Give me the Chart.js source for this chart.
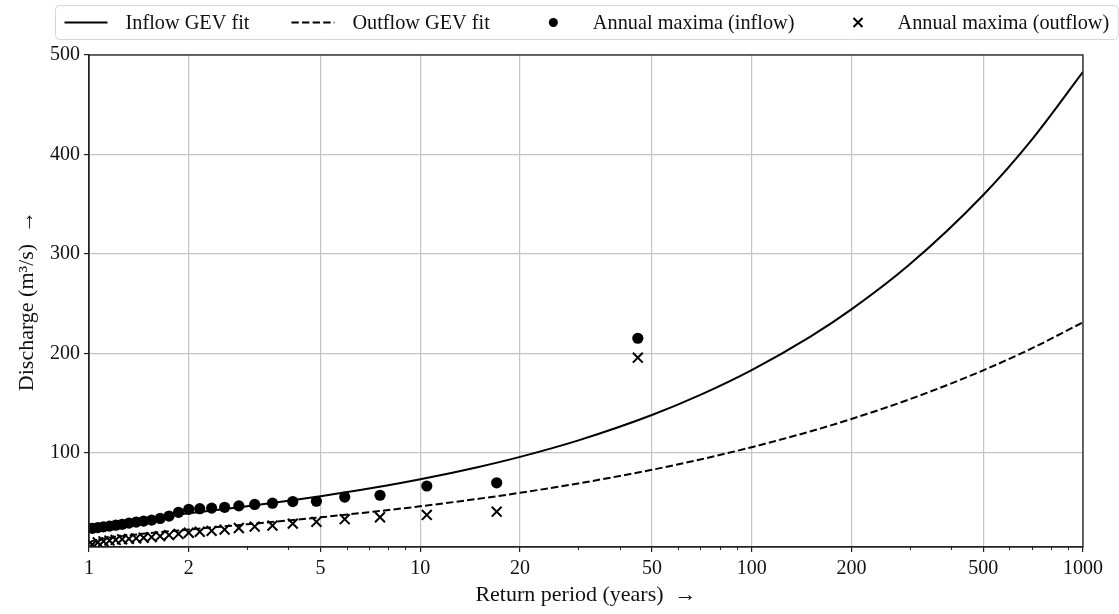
<!DOCTYPE html>
<html>
<head>
<meta charset="utf-8">
<script src="https://cdn.jsdelivr.net/npm/chart.js@4.4.1/dist/chart.umd.min.js"></script>
<style>
  html, body { margin: 0; padding: 0; background: #fff; }
</style>
</head>
<body>
<canvas id="gevChart" width="1119" height="614"></canvas>
<script>
// annual maxima, plotted at their return period (years)
const returnPeriods = [1.023, 1.063, 1.106, 1.153, 1.204, 1.259, 1.320, 1.388, 1.462, 1.545,
  1.639, 1.744, 1.863, 2.000, 2.159, 2.345, 2.566, 2.833, 3.163, 3.579,
  4.121, 4.857, 5.913, 7.556, 10.46, 17.00, 45.33];
const inflowMaxima = [24.3, 25.0, 25.8, 26.5, 27.4, 28.3, 29.5, 30.6, 31.6, 32.5,
  34.2, 36.6, 40.4, 43.4, 44.0, 44.6, 45.4, 46.8, 48.3, 49.5,
  51.2, 51.5, 55.7, 57.5, 66.8, 70.0, 215.3];
const outflowMaxima = [8.0, 10.0, 11.2, 12.0, 12.6, 13.2, 13.7, 14.2, 14.8, 15.5,
  16.4, 17.5, 18.6, 19.8, 20.8, 21.8, 23.0, 24.6, 26.0, 27.0,
  29.0, 30.8, 33.5, 35.4, 37.7, 41.0, 195.8];

// fitted GEV curves, read at these return periods
const fitPeriods = [1.001, 1.01, 1.05, 1.1, 1.2, 1.3, 1.5, 1.75, 2, 2.5, 3, 4, 5, 7, 10,
  15, 20, 30, 50, 70, 100, 150, 200, 300, 500, 700, 1000];
const inflowFit = [22.6, 24.5, 26.8, 28.3, 30.4, 32.0, 34.6, 37.2, 39.4, 43.2, 46.5, 51.9, 56.5, 64.2, 73.6,
  86.0, 96.1, 112.7, 138.2, 158.4, 183.3, 216.7, 244.3, 289.6, 359.3, 414.7, 483.0];
const outflowFit = [8.5, 10.4, 12.5, 13.9, 15.7, 17.0, 19.2, 21.3, 23.0, 25.9, 28.3, 32.2, 35.3, 40.5, 46.4,
  54.0, 60.0, 69.4, 83.1, 93.5, 105.8, 121.6, 134.2, 154.0, 183.1, 205.1, 231.3];

const xTicks = [1, 2, 5, 10, 20, 50, 100, 200, 500, 1000];
const xMinorTicks = [3, 4, 6, 7, 8, 9, 30, 40, 60, 70, 80, 90, 300, 400, 600, 700, 800, 900];
const yTicks = [100, 200, 300, 400, 500];

const FONT = "'Liberation Serif', 'Times New Roman', serif";
const DASH = [7.4, 3.2];

const toPoints = (xs, ys) => xs.map((x, i) => ({ x: x, y: ys[i] }));

// box around the axes plus the small minor ticks on the log axis
const framePlugin = {
  id: "frame",
  afterDraw(chart) {
    const { ctx, chartArea: a, scales } = chart;
    ctx.save();
    ctx.strokeStyle = "#222";
    ctx.lineWidth = 1;
    xMinorTicks.forEach((v) => {
      const px = Math.round(scales.x.getPixelForValue(v)) + 0.5;
      ctx.beginPath();
      ctx.moveTo(px, a.bottom);
      ctx.lineTo(px, a.bottom + 3);
      ctx.stroke();
    });
    ctx.lineWidth = 1.3;
    ctx.strokeRect(a.left, a.top, a.right - a.left, a.bottom - a.top);
    ctx.restore();
  },
};

// matplotlib-like legend in one row above the axes
const legendPlugin = {
  id: "mplLegend",
  afterDraw(chart) {
    const { ctx, chartArea: a } = chart;
    const items = chart.data.datasets;
    ctx.save();
    ctx.font = "20.3px " + FONT;
    const handle = 43, textPad = 18, gap = 42, pad = 9;
    const widths = items.map((d) => handle + textPad + ctx.measureText(d.label).width);
    const total = widths.reduce((s, w) => s + w, 0) + gap * (items.length - 1) + pad * 2;
    const left = Math.round((a.left + a.right) / 2 - total / 2) + 0.5;
    const top = 5.5, h = 34;
    ctx.beginPath();
    ctx.roundRect(left, top, total, h, 4);
    ctx.fillStyle = "rgba(255,255,255,0.8)";
    ctx.fill();
    ctx.strokeStyle = "#d6d6d6";
    ctx.lineWidth = 1;
    ctx.stroke();
    const cy = top + h / 2;
    let x = left + pad;
    items.forEach((d, i) => {
      ctx.strokeStyle = "#000";
      ctx.fillStyle = "#000";
      if (d.showLine) {
        ctx.lineWidth = d.borderWidth;
        ctx.setLineDash(d.borderDash || []);
        ctx.beginPath();
        ctx.moveTo(x, cy);
        ctx.lineTo(x + handle, cy);
        ctx.stroke();
        ctx.setLineDash([]);
      } else if (d.pointStyle === "circle") {
        ctx.beginPath();
        ctx.arc(x + handle / 2, cy, 4.5, 0, Math.PI * 2);
        ctx.fill();
      } else {
        const r = 4.5;
        ctx.lineWidth = 2;
        ctx.beginPath();
        ctx.moveTo(x + handle / 2 - r, cy - r);
        ctx.lineTo(x + handle / 2 + r, cy + r);
        ctx.moveTo(x + handle / 2 + r, cy - r);
        ctx.lineTo(x + handle / 2 - r, cy + r);
        ctx.stroke();
      }
      ctx.textBaseline = "middle";
      ctx.fillStyle = "#111";
      ctx.fillText(d.label, x + handle + textPad, cy + 1);
      x += widths[i] + gap;
    });
    ctx.restore();
  },
};

const ctx = document.getElementById("gevChart").getContext("2d");
new Chart(ctx, {
  type: "scatter",
  data: {
    datasets: [
      {
        label: "Inflow GEV fit",
        data: toPoints(fitPeriods, inflowFit),
        showLine: true,
        borderColor: "#000",
        borderWidth: 2,
        pointRadius: 0,
        cubicInterpolationMode: "monotone",
      },
      {
        label: "Outflow GEV fit",
        data: toPoints(fitPeriods, outflowFit),
        showLine: true,
        borderColor: "#000",
        borderWidth: 2,
        borderDash: DASH,
        pointRadius: 0,
        cubicInterpolationMode: "monotone",
      },
      {
        label: "Annual maxima (inflow)",
        data: toPoints(returnPeriods, inflowMaxima),
        pointStyle: "circle",
        pointRadius: 5.6,
        backgroundColor: "#000",
        borderColor: "#000",
        borderWidth: 0,
      },
      {
        label: "Annual maxima (outflow)",
        data: toPoints(returnPeriods, outflowMaxima),
        pointStyle: "crossRot",
        pointRadius: 7,
        borderColor: "#000",
        borderWidth: 2,
      },
    ],
  },
  options: {
    responsive: false,
    animation: false,
    devicePixelRatio: 1,
    layout: { padding: { left: 0, right: 36, top: 55, bottom: 0 } },
    plugins: {
      legend: { display: false },
      tooltip: { enabled: false },
    },
    scales: {
      x: {
        type: "logarithmic",
        min: 1,
        max: 1000,
        afterBuildTicks: (scale) => {
          scale.ticks = xTicks.map((v) => ({ value: v }));
        },
        afterFit: (scale) => {
          scale.height = 67;
        },
        grid: { color: "#c4c4c4", lineWidth: 1.2, tickColor: "#222", tickLength: 5 },
        border: { color: "#222", width: 1.3 },
        ticks: {
          color: "#111",
          font: { family: FONT, size: 20 },
          padding: 5,
          maxRotation: 0,
          autoSkip: false,
          callback: (v) => String(v),
        },
        title: {
          display: true,
          text: "Return period (years)  \u2192",
          color: "#111",
          font: { family: FONT, size: 22 },
          padding: { top: 0, bottom: 6 },
        },
      },
      y: {
        type: "linear",
        min: 5.5,
        max: 500,
        afterBuildTicks: (scale) => {
          scale.ticks = yTicks.map((v) => ({ value: v }));
        },
        afterFit: (scale) => {
          scale.width = 89;
        },
        grid: { color: "#c4c4c4", lineWidth: 1.2, tickColor: "#222", tickLength: 5 },
        border: { color: "#222", width: 1.3 },
        ticks: {
          color: "#111",
          font: { family: FONT, size: 20 },
          padding: 4,
        },
        title: {
          display: true,
          text: "Discharge (m\u00b3/s)  \u2192",
          color: "#111",
          font: { family: FONT, size: 22 },
          padding: { top: 14, bottom: 0 },
        },
      },
    },
  },
  plugins: [framePlugin, legendPlugin],
});
</script>
</body>
</html>
